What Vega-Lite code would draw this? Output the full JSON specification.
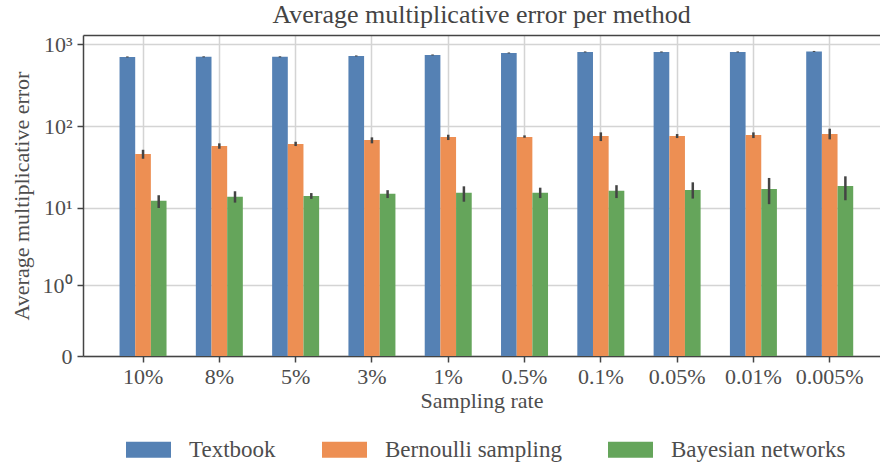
{
  "$schema": "https://vega.github.io/schema/vega-lite/v6.json",
  "width": 797,
  "height": 321,
  "autosize": {"type": "none"},
  "padding": {"left": 83, "top": 35, "right": 0, "bottom": 107},
  "background": "white",
  "title": {"text": "Average multiplicative error per method", "fontSize": 26, "font": "Liberation Serif", "fontWeight": "normal", "color": "#444444", "offset": 5, "anchor": "middle"},
  "config": {
    "view": {"stroke": null},
    "font": "Liberation Serif",
    "axis": {"labelFont": "Liberation Serif", "titleFont": "Liberation Serif"},
    "legend": {"labelFont": "Liberation Serif", "titleFont": "Liberation Serif"}
  },
  "data": {"values": [
    {"rate": "10%", "method": "Textbook", "value": 696, "lo": 686, "hi": 706},
    {"rate": "8%", "method": "Textbook", "value": 698, "lo": 688, "hi": 708},
    {"rate": "5%", "method": "Textbook", "value": 698, "lo": 688, "hi": 708},
    {"rate": "3%", "method": "Textbook", "value": 716, "lo": 706, "hi": 726},
    {"rate": "1%", "method": "Textbook", "value": 736, "lo": 726, "hi": 746},
    {"rate": "0.5%", "method": "Textbook", "value": 779, "lo": 769, "hi": 789},
    {"rate": "0.1%", "method": "Textbook", "value": 801, "lo": 790, "hi": 812},
    {"rate": "0.05%", "method": "Textbook", "value": 801, "lo": 790, "hi": 812},
    {"rate": "0.01%", "method": "Textbook", "value": 801, "lo": 790, "hi": 812},
    {"rate": "0.005%", "method": "Textbook", "value": 812, "lo": 801, "hi": 823},
    {"rate": "10%", "method": "Bernoulli sampling", "value": 45.7, "lo": 40.0, "hi": 51.5},
    {"rate": "8%", "method": "Bernoulli sampling", "value": 57.2, "lo": 53.0, "hi": 61.7},
    {"rate": "5%", "method": "Bernoulli sampling", "value": 60.5, "lo": 57.2, "hi": 64.5},
    {"rate": "3%", "method": "Bernoulli sampling", "value": 67.7, "lo": 61.7, "hi": 73.0},
    {"rate": "1%", "method": "Bernoulli sampling", "value": 73.6, "lo": 67.7, "hi": 78.6},
    {"rate": "0.5%", "method": "Bernoulli sampling", "value": 73.6, "lo": 72.2, "hi": 77.2},
    {"rate": "0.1%", "method": "Bernoulli sampling", "value": 75.7, "lo": 65.8, "hi": 84.0},
    {"rate": "0.05%", "method": "Bernoulli sampling", "value": 75.7, "lo": 71.6, "hi": 80.1},
    {"rate": "0.01%", "method": "Bernoulli sampling", "value": 77.9, "lo": 71.6, "hi": 84.0},
    {"rate": "0.005%", "method": "Bernoulli sampling", "value": 80.1, "lo": 69.0, "hi": 93.0},
    {"rate": "10%", "method": "Bayesian networks", "value": 12.2, "lo": 9.95, "hi": 14.3},
    {"rate": "8%", "method": "Bayesian networks", "value": 13.7, "lo": 11.6, "hi": 16.0},
    {"rate": "5%", "method": "Bayesian networks", "value": 14.0, "lo": 12.9, "hi": 15.2},
    {"rate": "3%", "method": "Bayesian networks", "value": 14.9, "lo": 13.2, "hi": 16.5},
    {"rate": "1%", "method": "Bayesian networks", "value": 15.3, "lo": 11.9, "hi": 18.4},
    {"rate": "0.5%", "method": "Bayesian networks", "value": 15.3, "lo": 13.2, "hi": 17.7},
    {"rate": "0.1%", "method": "Bayesian networks", "value": 16.2, "lo": 13.2, "hi": 19.0},
    {"rate": "0.05%", "method": "Bayesian networks", "value": 16.6, "lo": 13.0, "hi": 20.6},
    {"rate": "0.01%", "method": "Bayesian networks", "value": 17.1, "lo": 11.1, "hi": 23.3},
    {"rate": "0.005%", "method": "Bayesian networks", "value": 18.6, "lo": 12.4, "hi": 24.4}
  ]},
  "resolve": {"axis": {"x": "independent"}},
  "layer": [
    {
      "mark": {"type": "bar"},
      "encoding": {
        "x": {
          "field": "rate", "type": "nominal",
          "sort": ["10%", "8%", "5%", "3%", "1%", "0.5%", "0.1%", "0.05%", "0.01%", "0.005%"],
          "scale": {"paddingInner": 0.384, "paddingOuter": 0.415, "align": 0.577},
          "axis": {
            "orient": "bottom", "title": "Sampling rate", "labelAngle": 0,
            "labelFont": "Liberation Serif", "titleFont": "Liberation Serif",
            "labelFontSize": 22, "labelColor": "#4d4d4d", "labelPadding": 4,
            "titleFontSize": 22, "titleFontWeight": "normal", "titleColor": "#4d4d4d", "titlePadding": 3,
            "tickSize": 6, "tickWidth": 1.5, "tickColor": "#444444",
            "domainColor": "#444444", "domainWidth": 1.5,
            "grid": true, "gridColor": "#d4d4d4", "gridWidth": 1.5
          }
        },
        "xOffset": {
          "field": "method", "type": "nominal",
          "sort": ["Textbook", "Bernoulli sampling", "Bayesian networks"],
          "scale": {"paddingInner": 0, "paddingOuter": 0}
        },
        "y": {
          "field": "value", "type": "quantitative",
          "scale": {"type": "symlog", "constant": 0.16, "domain": [0, 1287], "nice": false},
          "axis": {
            "title": "Average multiplicative error",
            "values": [0, 1, 10, 100, 1000],
            "labelExpr": "datum.value == 0 ? '0' : datum.value == 1 ? '10⁰' : datum.value == 10 ? '10¹' : datum.value == 100 ? '10²' : '10³'",
            "labelFont": "Liberation Serif", "titleFont": "Liberation Serif",
            "labelFontSize": 22, "labelColor": "#4d4d4d", "labelPadding": 5,
            "titleFontSize": 22, "titleFontWeight": "normal", "titleColor": "#4d4d4d", "titlePadding": 9,
            "tickSize": 6, "tickWidth": 1.5, "tickColor": "#444444",
            "domainColor": "#444444", "domainWidth": 1.5,
            "grid": true, "gridColor": "#d4d4d4", "gridWidth": 1.5
          }
        },
        "color": {
          "field": "method", "type": "nominal",
          "scale": {"domain": ["Textbook", "Bernoulli sampling", "Bayesian networks"], "range": ["#5581b4", "#ed8f53", "#65a55b"]},
          "legend": {
            "orient": "none", "legendX": 43, "legendY": 392, "direction": "horizontal",
            "title": null, "symbolType": "M-1,-0.356H1V0.356H-1Z", "symbolSize": 2025,
            "symbolStrokeWidth": 0, "symbolOpacity": 1, "labelLimit": 400,
            "labelFont": "Liberation Serif",
            "labelFontSize": 23, "labelColor": "#4d4d4d", "labelOffset": 18, "columnPadding": 46
          }
        }
      }
    },
    {
      "mark": {"type": "rule", "color": "#444444", "strokeWidth": 2.5},
      "encoding": {
        "x": {
          "field": "rate", "type": "nominal",
          "sort": ["10%", "8%", "5%", "3%", "1%", "0.5%", "0.1%", "0.05%", "0.01%", "0.005%"],
          "axis": {"orient": "top", "labels": false, "ticks": false, "grid": false, "title": null, "domain": true, "domainColor": "#444444", "domainWidth": 1.5}
        },
        "xOffset": {"field": "method", "type": "nominal", "sort": ["Textbook", "Bernoulli sampling", "Bayesian networks"]},
        "y": {"field": "lo", "type": "quantitative"},
        "y2": {"field": "hi"}
      }
    }
  ]
}
